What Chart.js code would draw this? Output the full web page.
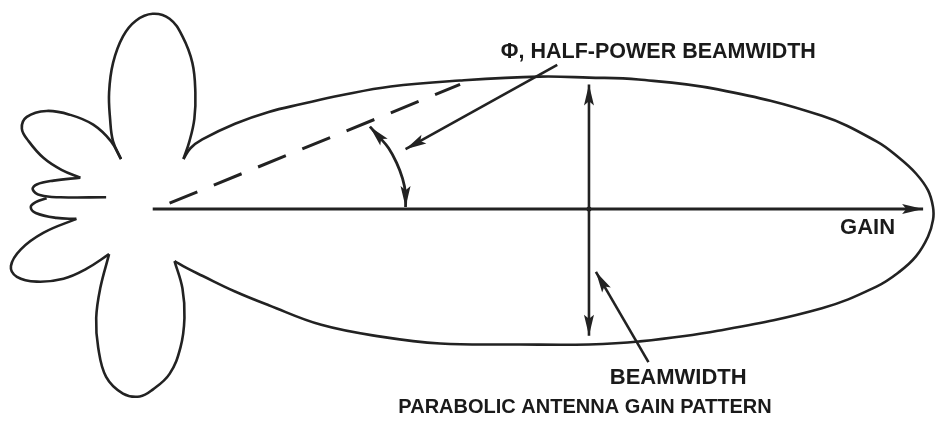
<!DOCTYPE html>
<html>
<head>
<meta charset="utf-8">
<script src="https://cdn.jsdelivr.net/npm/chart.js@4/dist/chart.umd.min.js"></script>
<style>
  html, body { margin: 0; padding: 0; background: #fff; }
  #chart { display: block; }
</style>
</head>
<body>
<canvas id="chart" width="939" height="425"></canvas>
<script>
// pattern outline, antenna at (0, 0), gain direction along +x
const mainLobe = [
  [31, 51], [38, 62], [50, 71], [83, 87], [117, 99], [150, 107], [190, 116], [240, 125],
  [310, 131], [390, 135], [440, 134], [490, 132], [570, 122], [675, 95],
  [730, 69], [753, 52], [770, 36], [782, 19], [787, 2], [787, -11], [782, -28], [770, -48],
  [753, -64], [730, -79], [675, -101], [570, -124], [490, -135], [440, -138],
  [370, -138], [290, -137], [230, -130], [170, -118], [117, -98], [83, -84], [50, -68],
  [34, -60], [22, -53]
]
const topLobe = [
  [-32, 51], [-40, 69], [-43, 92], [-44, 119], [-40, 149], [-30, 176], [-17, 192], [0, 199],
  [17, 194], [30, 176], [40, 149], [43, 119], [42, 92], [37, 69], [31, 51]
]
const bottomLobe = [
  [22, -53], [30, -81], [32, -111], [28, -141], [17, -168], [0, -184], [-13, -191],
  [-30, -188], [-47, -171], [-55, -141], [-57, -111], [-53, -81], [-44, -46]
]
const upperBackLobe = [
  [-73, 32], [-92, 40], [-110, 52], [-125, 69], [-132, 82], [-127, 94], [-107, 100],
  [-83, 96], [-60, 86], [-42, 69], [-32, 51]
]
const lowerBackLobe = [
  [-77, -10], [-110, -24], [-133, -41], [-143, -58], [-137, -69], [-117, -74], [-90, -71],
  [-67, -61], [-44, -46]
]
const minorLobe1 = [[-73, 32], [-100, 29], [-117, 25], [-121, 20], [-113, 14], [-93, 12], [-47, 12]]
const minorLobe2 = [[-107, 11], [-118, 7], [-123, 2], [-118, -4], [-97, -9], [-77, -10]]

// construction lines
const gainAxis = [[0, 0], [777, 0]]
const halfPowerLine = [[17, 6], [310, 127]]
const phiArc = [[219, 84], [228, 74], [238, 62], [246, 47], [252, 31], [255, 16], [255, 2]]
const phiLeader = [[408, 147], [255, 61]]
const beamwidthSpan = [[440, 127], [440, -129]]
const beamwidthLeader = [[500, -156], [447, -64]]
const beamCenter = [[440, 0]]

const labels = [
  { text: "Φ, HALF-POWER BEAMWIDTH", at: [510, 154], size: 21.5 },
  { text: "GAIN", at: [721, -25], size: 22 },
  { text: "BEAMWIDTH", at: [530, -178], size: 22 },
  { text: "PARABOLIC ANTENNA GAIN PATTERN", at: [436, -208], size: 20 }
]

const INK = "#222"
const pts = arr => arr.map(([x, y]) => ({ x, y }))

function curve(data, extra = {}) {
  return Object.assign({
    data: pts(data),
    showLine: true,
    borderColor: INK,
    borderWidth: 2.6,
    tension: 0.4,
    pointRadius: 0,
    fill: false
  }, extra)
}

function drawHead(ctx, from, to, len = 21, half = 5) {
  const a = Math.atan2(to[1] - from[1], to[0] - from[0])
  const c = Math.cos(a), s = Math.sin(a)
  ctx.beginPath()
  ctx.moveTo(to[0], to[1])
  ctx.lineTo(to[0] - len * c - half * s, to[1] - len * s + half * c)
  ctx.lineTo(to[0] - len * c * 0.8, to[1] - len * s * 0.8)
  ctx.lineTo(to[0] - len * c + half * s, to[1] - len * s - half * c)
  ctx.closePath()
  ctx.fill()
}

const arrowHeads = {
  id: "arrowHeads",
  afterDatasetsDraw(chart) {
    const { ctx, scales: { x, y } } = chart
    ctx.save()
    ctx.fillStyle = INK
    chart.data.datasets.forEach(ds => {
      if (!ds.arrows) return
      const p = ds.data.map(d => [x.getPixelForValue(d.x), y.getPixelForValue(d.y)])
      if (ds.arrows.includes("end")) drawHead(ctx, p[p.length - 2], p[p.length - 1])
      if (ds.arrows.includes("start")) drawHead(ctx, p[1], p[0])
    })
    ctx.restore()
  }
}

const textLabels = {
  id: "textLabels",
  afterDraw(chart) {
    const { ctx, scales: { x, y } } = chart
    ctx.save()
    ctx.fillStyle = "#1a1a1a"
    ctx.textAlign = "center"
    ctx.textBaseline = "alphabetic"
    labels.forEach(l => {
      ctx.font = `bold ${l.size}px "Liberation Sans", Arial, sans-serif`
      ctx.fillText(l.text, x.getPixelForValue(l.at[0]), y.getPixelForValue(l.at[1]))
    })
    ctx.restore()
  }
}

new Chart(document.getElementById("chart"), {
  type: "scatter",
  data: {
    datasets: [
      curve(mainLobe),
      curve(topLobe),
      curve(bottomLobe),
      curve(upperBackLobe),
      curve(lowerBackLobe),
      curve(minorLobe1),
      curve(minorLobe2),
      curve(gainAxis, { tension: 0, borderWidth: 3, arrows: ["end"] }),
      curve(halfPowerLine, { tension: 0, borderWidth: 3, borderDash: [30, 17.8] }),
      curve(phiArc, { borderWidth: 2.8, arrows: ["start", "end"] }),
      curve(phiLeader, { tension: 0, borderWidth: 2.6, arrows: ["end"] }),
      curve(beamwidthSpan, { tension: 0, borderWidth: 2.6, arrows: ["start", "end"] }),
      curve(beamwidthLeader, { tension: 0, borderWidth: 2.6, arrows: ["end"] }),
      { data: pts(beamCenter), pointRadius: 2.5, backgroundColor: INK, borderWidth: 0 }
    ]
  },
  options: {
    responsive: false,
    animation: false,
    events: [],
    layout: { padding: 0 },
    scales: {
      x: { type: "linear", min: -150, max: 789, display: false },
      y: { type: "linear", min: -216, max: 209, display: false }
    },
    plugins: {
      legend: { display: false },
      tooltip: { enabled: false }
    }
  },
  plugins: [arrowHeads, textLabels]
})
</script>
</body>
</html>
